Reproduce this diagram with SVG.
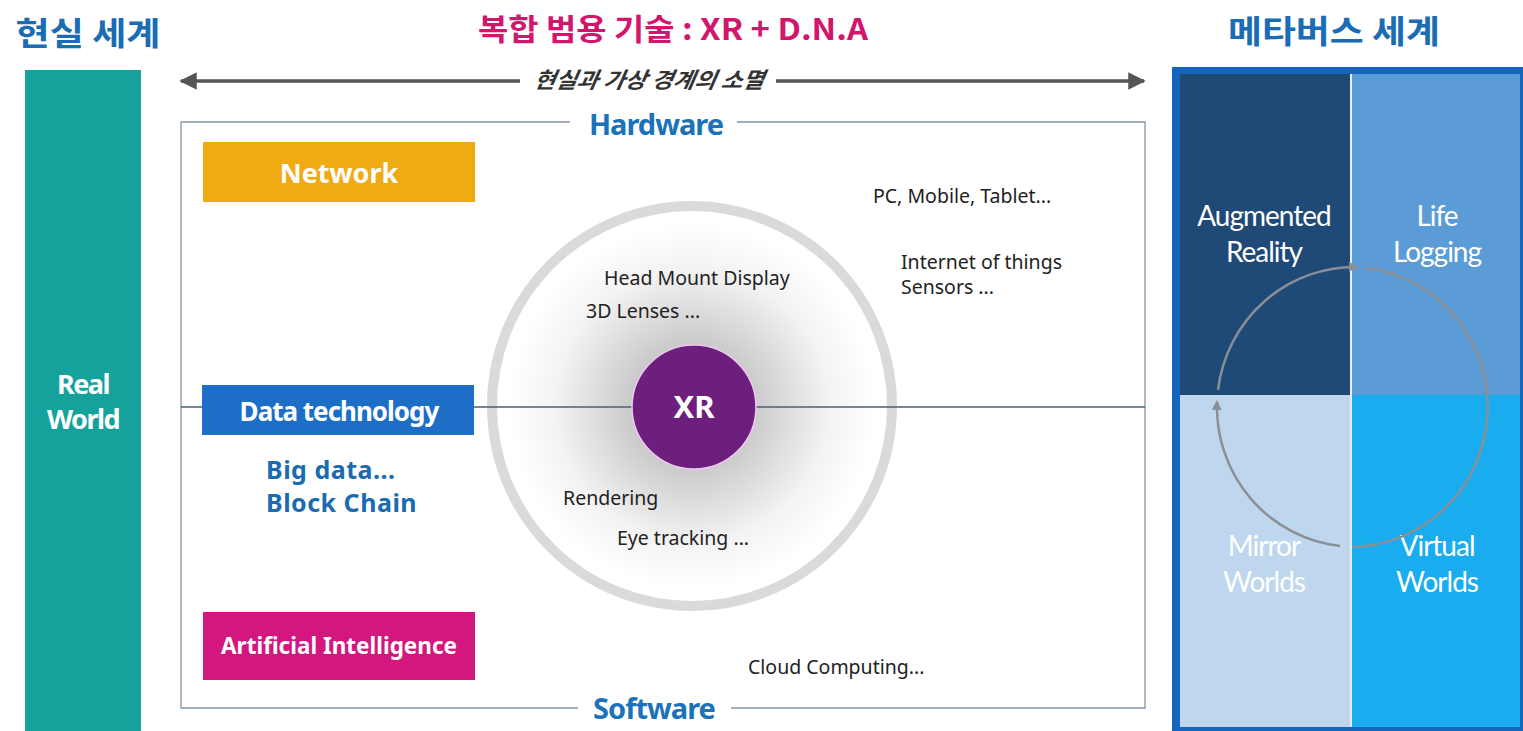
<svg xmlns="http://www.w3.org/2000/svg" width="1523" height="731" viewBox="0 0 1523 731">
<defs>
<style>
.ko{font-family:"Noto Sans CJK KR","Noto Sans",sans-serif;font-weight:bold}
.lbl{font-family:"Noto Sans","Open Sans",sans-serif;font-size:19.5px;fill:#222}
.box{font-family:"Noto Sans","Open Sans",sans-serif;font-weight:bold;fill:#fff;text-anchor:middle}
.hw{font-family:"Noto Sans","Open Sans",sans-serif;font-weight:bold;fill:#1b72bb;text-anchor:middle;font-size:29px;letter-spacing:-1px}
.mv{font-family:"Lato","Noto Sans",sans-serif;fill:#fff;text-anchor:middle;font-size:28px;letter-spacing:-1px}
.cyc{fill:none;stroke:#8a8f96;stroke-width:2.5}
</style>
<radialGradient id="glow" cx="0.5" cy="0.5" r="0.5">
<stop offset="0" stop-color="#a4a4a4"/>
<stop offset="0.35" stop-color="#cbcbcb"/>
<stop offset="0.75" stop-color="#f3f3f3"/>
<stop offset="1" stop-color="#ffffff"/>
</radialGradient>
<marker id="ah" viewBox="0 0 10 10" refX="9" refY="5" markerWidth="5" markerHeight="5" orient="auto-start-reverse">
<path d="M0,0 L10,5 L0,10 z" fill="#555"/>
</marker>
<marker id="ah2" viewBox="0 0 10 10" refX="8" refY="5" markerWidth="4" markerHeight="4" orient="auto">
<path d="M0,0 L10,5 L0,10 z" fill="#8a8f96"/>
</marker>
</defs>
<rect width="1523" height="731" fill="#fff"/>

<g id="title-real">
<text x="88" y="45" class="ko" font-size="32" fill="#1a6db5" text-anchor="middle" textLength="145" lengthAdjust="spacingAndGlyphs">현실 세계</text>
</g>
<g id="title-main">
<text x="673" y="40" class="ko" font-size="30" fill="#d2156d" text-anchor="middle" textLength="390" lengthAdjust="spacingAndGlyphs">복합 범용 기술 : XR + D.N.A</text>
</g>
<g id="title-meta">
<text x="1334" y="43" class="ko" font-size="32" fill="#1a6db5" text-anchor="middle" textLength="212" lengthAdjust="spacingAndGlyphs">메타버스 세계</text>
</g>

<g id="real-world">
<rect x="25" y="70" width="116" height="661" fill="#15a29c"/>
<text x="83" y="394" class="box" font-size="27" letter-spacing="-1.5">Real</text>
<text x="83" y="429" class="box" font-size="27" letter-spacing="-1.5">World</text>
</g>

<g id="connectors">
<line x1="181" y1="81" x2="520" y2="81" stroke="#555" stroke-width="3.5" marker-start="url(#ah)"/>
<line x1="776" y1="81" x2="1144" y2="81" stroke="#555" stroke-width="3.5" marker-end="url(#ah)"/>
</g>
<g id="boundary-label">
<text x="648" y="88" class="ko" font-weight="normal" font-style="italic" font-size="22" fill="#333" text-anchor="middle" textLength="230" lengthAdjust="spacingAndGlyphs" transform="skewX(-10) translate(15.5,0)">현실과 가상 경계의 소멸</text>
</g>

<g id="frame">
<path d="M570,122 H181 V708 H578 M731,708 H1145 V122 H737" fill="none" stroke="#8594a8" stroke-width="1.3"/>
<text x="656" y="135" class="hw">Hardware</text>
<text x="654" y="719" class="hw">Software</text>
</g>

<g id="xr-ring">
<circle cx="692" cy="406" r="182" fill="url(#glow)"/>
<circle cx="692" cy="406" r="200" fill="none" stroke="#dadada" stroke-width="10"/>
</g>

<line x1="181" y1="407" x2="1145" y2="407" stroke="#4e5c7a" stroke-width="1.3"/>

<g id="network">
<rect x="203" y="142" width="272" height="60" fill="#f0ab13"/>
<text x="339" y="183" class="box" font-size="27">Network</text>
</g>
<g id="data-tech">
<rect x="202" y="385" width="272" height="50" fill="#1d6ec7"/>
<text x="339" y="421" class="box" font-size="26" letter-spacing="-1">Data technology</text>
</g>
<g id="data-sub">
<text x="266" y="479" font-family="Noto Sans,Open Sans,sans-serif" font-weight="bold" font-size="25" fill="#1b6bb0" letter-spacing="0.5">Big data...</text>
<text x="266" y="512" font-family="Noto Sans,Open Sans,sans-serif" font-weight="bold" font-size="25" fill="#1b6bb0" letter-spacing="0.5">Block Chain</text>
</g>
<g id="ai">
<rect x="203" y="612" width="272" height="68" fill="#d4167f"/>
<text x="339" y="654" class="box" font-size="22.5">Artificial Intelligence</text>
</g>

<g id="xr">
<circle cx="694" cy="407" r="62" fill="#6d1f7e" stroke="#f0c8f0" stroke-width="1.5"/>
<text x="694" y="418" class="box" font-size="31">XR</text>
</g>

<g id="labels">
<text x="604" y="285" class="lbl">Head Mount Display</text>
<text x="586" y="318" class="lbl">3D Lenses ...</text>
<text x="563" y="505" class="lbl">Rendering</text>
<text x="617" y="545" class="lbl">Eye tracking ...</text>
<text x="873" y="203" class="lbl">PC, Mobile, Tablet...</text>
<text x="901" y="269" class="lbl">Internet of things</text>
<text x="901" y="294" class="lbl">Sensors ...</text>
<text x="748" y="674" class="lbl">Cloud Computing...</text>
</g>

<g id="metaverse">
<rect x="1174" y="69" width="347" height="660" fill="#1565bd" stroke="#1565bd" stroke-width="4"/>
<rect x="1180" y="74" width="170" height="321" fill="#1f4a78"/>
<rect x="1352" y="74" width="168" height="321" fill="#5b9bd6"/>
<rect x="1180" y="395" width="170" height="332" fill="#bed7ee"/>
<rect x="1352" y="395" width="168" height="332" fill="#19acef"/>
<line x1="1351" y1="74" x2="1351" y2="727" stroke="#e6f0fa" stroke-width="2"/>
</g>
<g id="ar"><text x="1264" y="226" class="mv">Augmented</text><text x="1264" y="262" class="mv">Reality</text></g>
<g id="ll"><text x="1437" y="226" class="mv">Life</text><text x="1437" y="262" class="mv">Logging</text></g>
<g id="mw"><text x="1264" y="556" class="mv">Mirror</text><text x="1264" y="592" class="mv">Worlds</text></g>
<g id="vw"><text x="1437" y="556" class="mv">Virtual</text><text x="1437" y="592" class="mv">Worlds</text></g>

<g id="cycle">
<path class="cyc" d="M1340,546 A138,140 0 0 1 1217,402" marker-end="url(#ah2)"/>
<path class="cyc" d="M1218,390 A138,140 0 0 1 1357,267" marker-end="url(#ah2)"/>
<path class="cyc" d="M1366,268 A138,140 0 0 1 1352,547"/>
</g>
</svg>
